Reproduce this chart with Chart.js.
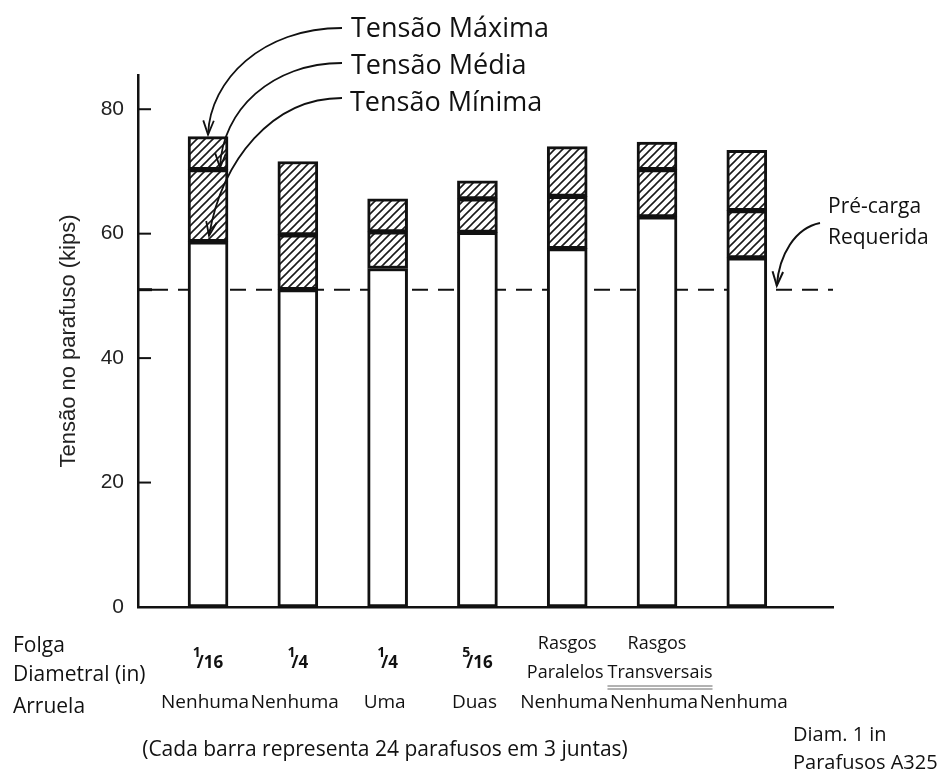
<!DOCTYPE html>
<html>
<head>
<meta charset="utf-8">
<script src="https://cdn.jsdelivr.net/npm/chart.js@4.4.0/dist/chart.umd.min.js"></script>
<style>
  html, body { margin: 0; padding: 0; background: #fff; }
  #wrap { width: 945px; height: 773px; }
</style>
</head>
<body>
<div id="wrap"><canvas id="chart"></canvas></div>
<script>
// values (kips)
const tensaoMin = [58.7, 51.0, 54.4, 60.2, 57.6, 62.7, 56.1];
const tensaoMed = [70.3, 59.8, 60.3, 65.6, 66.0, 70.3, 63.7];
const tensaoMax = [75.6, 71.6, 65.6, 68.5, 74.0, 74.7, 73.4];
const preCarga = 51;
const yTicks = [0, 20, 40, 60, 80];

// labels under each bar
const folga = ["1/16", "1/4", "1/4", "5/16", "", "", ""];
const rasgosA = ["", "", "", "", "Rasgos", "Rasgos", ""];
const rasgosB = ["", "", "", "", "Paralelos", "Transversais", ""];
const arruela = ["Nenhuma", "Nenhuma", "Uma", "Duas", "Nenhuma", "Nenhuma", "Nenhuma"];

const SANS = "'Open Sans', 'Noto Sans', sans-serif";
const AXISFONT = "'Liberation Sans', Arial, sans-serif";

function hatchPattern() {
  const c = document.createElement("canvas");
  c.width = 8; c.height = 8;
  const g = c.getContext("2d");
  g.fillStyle = "#fff";
  g.fillRect(0, 0, 8, 8);
  g.strokeStyle = "#1a1a1a";
  g.lineWidth = 1.6;
  g.beginPath();
  g.moveTo(-2, 10); g.lineTo(10, -2);
  g.moveTo(-6, 6); g.lineTo(6, -6);
  g.moveTo(2, 14); g.lineTo(14, 2);
  g.stroke();
  return g.createPattern(c, "repeat");
}
const hatch = hatchPattern();

const barBase = {
  type: "bar",
  borderColor: "#111",
  borderWidth: 3,
  borderSkipped: false,
  barThickness: 40,
  grouped: false,
};

function arrow(ctx, x0, y0, cx1, cy1, cx2, cy2, x1, y1) {
  ctx.beginPath();
  ctx.moveTo(x0, y0);
  ctx.bezierCurveTo(cx1, cy1, cx2, cy2, x1, y1);
  ctx.stroke();
  const a = Math.atan2(y1 - cy2, x1 - cx2);
  const L = 15, w = 0.36;
  ctx.beginPath();
  ctx.moveTo(x1 - L * Math.cos(a - w), y1 - L * Math.sin(a - w));
  ctx.lineTo(x1, y1);
  ctx.lineTo(x1 - L * Math.cos(a + w), y1 - L * Math.sin(a + w));
  ctx.stroke();
}

const extras = {
  id: "extras",
  beforeDatasetsDraw(chart) {
    const { ctx, chartArea, scales } = chart;
    const y = scales.y;
    ctx.save();
    ctx.strokeStyle = "#111";
    // required preload
    ctx.lineWidth = 2;
    ctx.setLineDash([16, 10]);
    const yp = y.getPixelForValue(preCarga);
    ctx.beginPath();
    ctx.moveTo(chartArea.left + 14, yp);
    ctx.lineTo(chartArea.right, yp);
    ctx.stroke();
    ctx.setLineDash([]);
    // inner tick marks
    ctx.lineWidth = 2;
    yTicks.slice(1).forEach(v => {
      const p = y.getPixelForValue(v);
      ctx.beginPath();
      ctx.moveTo(chartArea.left, p);
      ctx.lineTo(chartArea.left + 13, p);
      ctx.stroke();
    });
    ctx.lineWidth = 3;
    ctx.beginPath();
    ctx.moveTo(chartArea.left - 1, yp);
    ctx.lineTo(chartArea.left + 14, yp);
    ctx.stroke();
    ctx.restore();
  },
  afterDraw(chart) {
    const { ctx, scales } = chart;
    const x = scales.x, y = scales.y;
    ctx.save();
    ctx.fillStyle = "#111";
    ctx.strokeStyle = "#111";

    // legend annotations with arrows to the first bar
    ctx.font = "27px " + SANS;
    ctx.textBaseline = "middle";
    ctx.textAlign = "left";
    ctx.fillText("Tensão Máxima", 351, 29);
    ctx.fillText("Tensão Média", 351, 66);
    ctx.fillText("Tensão Mínima", 350, 103);

    const bx = x.getPixelForValue(0);
    ctx.lineWidth = 1.8;
    const yMax = y.getPixelForValue(tensaoMax[0]) - 2;
    const yMed = y.getPixelForValue(tensaoMed[0]) - 2;
    const yMin = y.getPixelForValue(tensaoMin[0]) - 6;
    arrow(ctx, 342, 28, 262, 28, 210, 80, bx, yMax);
    arrow(ctx, 342, 63, 272, 63, 222, 110, bx + 12, yMed);
    arrow(ctx, 342, 98, 272, 98, 222, 160, bx + 1, yMin);

    // Pré-carga requerida
    ctx.font = "21px " + SANS;
    ctx.fillText("Pré-carga", 828, 207);
    ctx.fillText("Requerida", 828, 238);
    const px = x.getPixelForValue(6) + 30;
    ctx.lineWidth = 2;
    arrow(ctx, 820, 223, 795, 228, 779, 255, px, y.getPixelForValue(preCarga) - 4);

    // row titles
    ctx.font = "21px " + SANS;
    ctx.fillText("Folga", 13, 646);
    ctx.fillText("Diametral (in)", 13, 675);
    ctx.fillText("Arruela", 13, 707);

    ctx.textAlign = "center";
    for (let i = 0; i < arruela.length; i++) {
      const cx = x.getPixelForValue(i);
      ctx.font = "19px " + SANS;
      ctx.fillText(arruela[i], cx - 3, 703);
      if (rasgosA[i]) {
        ctx.font = "18px " + SANS;
        ctx.fillText(rasgosA[i], cx, 644);
        ctx.fillText(rasgosB[i], cx + (i === 5 ? 3 : -2), 673);
        if (i === 5) {
          const w = ctx.measureText(rasgosB[i]).width;
          ctx.lineWidth = 1;
          ctx.strokeStyle = "#666";
          ctx.beginPath();
          ctx.moveTo(cx + 3 - w / 2, 686); ctx.lineTo(cx + 3 + w / 2, 686);
          ctx.moveTo(cx + 3 - w / 2, 689); ctx.lineTo(cx + 3 + w / 2, 689);
          ctx.stroke();
          ctx.strokeStyle = "#111";
        }
      }
      if (folga[i]) {
        const [num, den] = folga[i].split("/");
        ctx.textAlign = "left";
        ctx.font = "bold 14px " + SANS;
        const wn = ctx.measureText(num).width;
        ctx.font = "bold 17px " + SANS;
        const wd = ctx.measureText("/" + den).width;
        const left = cx - (wn + wd - 4) / 2;
        ctx.font = "bold 14px " + SANS;
        ctx.fillText(num, left, 653);
        ctx.font = "bold 17px " + SANS;
        ctx.fillText("/" + den, left + wn - 4, 663);
        ctx.textAlign = "center";
      }
    }

    ctx.textAlign = "center";
    ctx.font = "21px " + SANS;
    ctx.fillText("(Cada barra representa 24 parafusos em 3 juntas)", 385, 750);
    ctx.textAlign = "left";
    ctx.font = "20px " + SANS;
    ctx.fillText("Diam. 1 in", 793, 735);
    ctx.fillText("Parafusos A325", 793, 763);
    ctx.restore();
  }
};

new Chart(document.getElementById("chart"), {
  data: {
    datasets: [
      Object.assign({}, barBase, {
        label: "Tensão Mínima",
        data: tensaoMin.map((v, i) => ({ x: i, y: [0, v] })),
        backgroundColor: "#fff",
      }),
      Object.assign({}, barBase, {
        label: "Tensão Média",
        data: tensaoMin.map((v, i) => ({ x: i, y: [v, tensaoMed[i]] })),
        backgroundColor: hatch,
      }),
      Object.assign({}, barBase, {
        label: "Tensão Máxima",
        data: tensaoMed.map((v, i) => ({ x: i, y: [v, tensaoMax[i]] })),
        backgroundColor: hatch,
      }),
    ],
  },
  options: {
    responsive: true,
    maintainAspectRatio: false,
    animation: false,
    layout: { padding: { top: 75, right: 112, bottom: 166, left: 0 } },
    plugins: { legend: { display: false }, tooltip: { enabled: false } },
    scales: {
      x: {
        type: "linear",
        offset: false,
        min: -0.78,
        max: 6.96,
        grid: { display: false, offset: false },
        ticks: { display: false },
        border: { display: true, color: "#111", width: 2.5 },
        afterFit: s => { s.height = 0; },
      },
      y: {
        min: 0,
        max: 85.5,
        grid: { display: false },
        border: { display: true, color: "#111", width: 2.5 },
        ticks: {
          stepSize: 20,
          padding: 6,
          color: "#222",
          font: { family: AXISFONT, size: 21 },
        },
        afterBuildTicks: s => { s.ticks = yTicks.map(v => ({ value: v })); },
        afterFit: s => { s.width = 138; },
        title: {
          display: true,
          text: "Tensão no parafuso (kips)",
          color: "#222",
          font: { family: AXISFONT, size: 22 },
          padding: { top: 56 },
        },
      },
    },
  },
  plugins: [extras],
});
</script>
</body>
</html>
